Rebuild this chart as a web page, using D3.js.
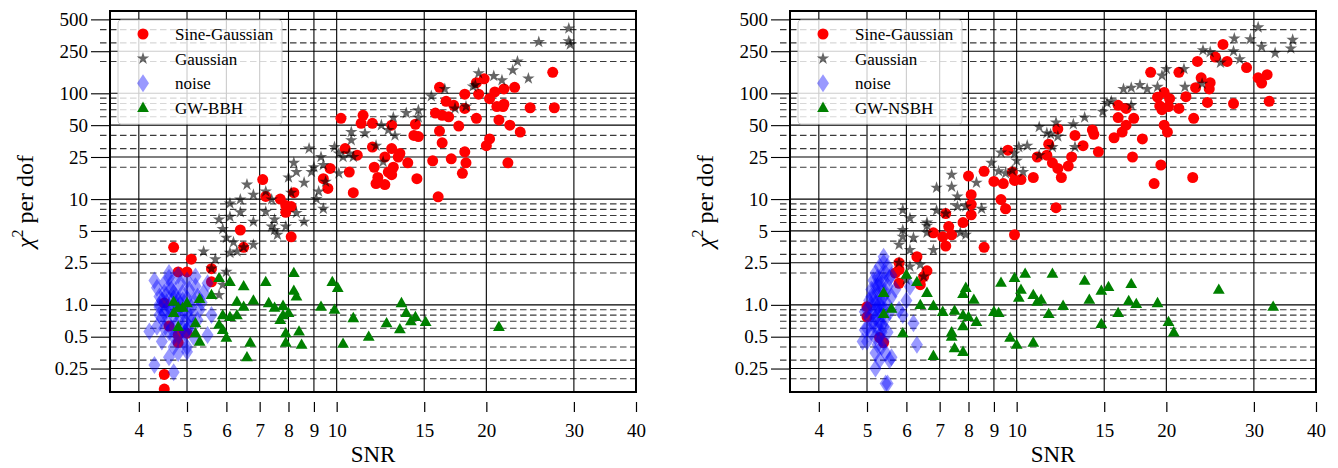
<!DOCTYPE html>
<html><head><meta charset="utf-8">
<script src="https://cdn.jsdelivr.net/npm/d3@7"></script>
<style>body{margin:0;background:#fff}svg{display:block}text{font-family:"Liberation Serif","Times New Roman",serif;fill:#000}</style>
</head><body><svg id="c" width="1338" height="468"></svg>
<script>
// ---- ticks / categories ----
const xTicks = [4,5,6,7,8,9,10,15,20,30,40];
const yTicks = [0.25,0.5,1,2.5,5,10,25,50,100,250,500];
const yMinor = [0.2,0.3,0.4,0.6,0.7,0.8,0.9,2,3,4,6,7,8,9,20,30,40,60,70,80,90,200,300,400];
const xDomain = [3.5,40];
const yDomain = [0.15,600];
const seriesNames = ["Sine-Gaussian","Gaussian","noise"];
const gwNames = ["GW-BBH","GW-NSBH"];

// ---- left panel (BBH) data: [SNR, chi2 per dof] ----
const sgBBH = [[10.2,58],[11.3,62],[11.2,52],[11.8,52],[12.9,50],[14.4,51],[14.3,40],[14.6,39],[11.8,31],[10.4,30],[12.9,30],[12.5,25],[13.4,27],[13.3,25],[13.9,22],[11.0,26],[9.7,19.5],[10.6,18],[11.9,20],[13.0,20],[12.1,16],[12.7,18],[12.9,17],[12.0,14],[12.5,13.7],[14.5,15.6],[10.8,11.5],[9.4,15.6],[9.6,12.6],[16.0,10.5],[15.6,23],[17.0,24],[18.1,28],[18.2,22],[17.9,17.5],[16.3,34],[16.1,44],[15.8,65],[16.3,62],[16.8,60],[16.6,84],[17.2,77],[16.1,114],[17.6,49],[18.1,72],[18.1,98],[19.1,58],[19.3,98],[19.1,126],[19.8,137],[20.3,89],[20.8,103],[21.0,75],[21.2,56],[21.6,75],[21.7,79],[21.7,110],[22.8,114],[20.3,37],[20.0,32],[22.3,50],[23.4,43],[22.1,22],[24.5,73],[27.4,73],[27.2,158],[7.1,15.3],[7.2,10.6],[7.7,10],[7.9,8.7],[7.9,7.5],[8.1,8.5],[8.2,11.5],[6.4,5.1],[8.1,4.4],[6.5,3.5],[4.7,3.5],[5.1,2.7],[4.8,2.05],[5.0,2.05],[5.6,2.2],[5.6,1.65],[4.5,1.04],[4.6,0.63],[4.8,0.52],[5.0,0.54],[4.8,0.44],[4.5,0.22],[4.5,0.16]];
const gaussBBH = [[29.3,410],[29.3,310],[29.5,290],[25.5,305],[23.1,200],[22.6,165],[24.3,138],[20.7,146],[21.5,133],[19.3,155],[19.0,120],[18.8,116],[16.5,110],[15.5,94],[13.8,65],[14.6,69],[14.6,59],[13.0,59],[12.3,50],[12.7,45],[13.1,40],[10.7,43],[10.7,36],[11.4,42],[12.0,32],[9.9,31],[10.1,27],[10.3,25],[10.6,27],[10.8,25],[10.1,17.5],[12.4,22.5],[9.3,25],[9.4,21],[9.5,14.6],[9.2,11.8],[9.4,8.1],[17.3,72],[18.2,75],[8.8,30],[8.2,22],[8.3,18],[8.0,16],[8.6,14.3],[8.9,18],[9.0,20],[9.1,10],[8.1,11.5],[6.6,13.7],[6.8,11],[7.2,11.8],[7.4,9.9],[7.2,7.6],[6.4,9.9],[6.1,9.1],[6.1,6.8],[6.4,7.5],[5.8,6.4],[5.9,5.2],[6.8,6.1],[7.5,6.4],[7.5,5.1],[7.9,5.5],[8.3,7.4],[8.6,6.1],[7.6,4.6],[6.0,4.3],[7.4,5.5],[6.2,3.9],[6.8,3.7],[6.5,3.5],[6.1,3.1],[6.3,3.2],[5.4,3.2],[5.7,2.7],[6.0,2.05],[5.9,1.55],[5.8,1.24],[5.6,2.2]];
const noiseBBH = [[4.2,0.56],[4.3,0.27],[4.7,0.23],[4.3,1.7],[4.35,1.45],[4.4,1.2],[4.4,0.95],[4.45,0.75],[4.35,0.62],[4.5,1.6],[4.5,1.3],[4.55,1.05],[4.5,0.85],[4.55,0.7],[4.6,0.55],[4.45,0.45],[4.6,1.8],[4.65,1.4],[4.7,1.15],[4.65,0.9],[4.7,0.78],[4.75,0.65],[4.8,0.5],[4.7,0.4],[4.8,1.9],[4.85,1.6],[4.9,1.3],[4.85,1.0],[4.9,0.85],[4.95,0.7],[5.0,0.58],[4.9,0.45],[4.8,0.35],[5.0,1.7],[5.05,1.4],[5.0,1.15],[5.1,0.95],[5.1,0.8],[5.05,0.62],[5.15,0.5],[5.0,0.4],[4.6,0.32],[5.2,1.85],[5.2,1.5],[5.25,1.2],[5.3,0.9],[5.25,0.72],[5.35,1.05],[5.5,1.6],[5.6,0.8],[5.5,0.52],[5.0,0.36],[4.4,1.0],[4.55,1.25],[4.75,1.0],[4.65,0.6],[4.9,1.1],[4.6,2.0],[4.8,0.9],[5.15,1.1],[4.4,0.8],[4.7,0.5],[4.95,0.55],[5.4,1.3],[4.5,0.6],[4.85,0.75],[5.1,0.7],[4.75,1.25],[4.6,0.95],[5.0,0.85],[4.45,1.1],[4.55,0.9],[4.7,1.3],[4.8,1.1],[4.65,1.6],[4.9,0.6]];
const gwBBH = [[5.8,1.8],[6.1,1.65],[6.5,1.5],[7.2,1.65],[8.2,2.0],[8.2,1.36],[8.3,1.2],[9.8,1.65],[10.05,1.45],[5.3,1.14],[5.6,1.24],[4.7,1.07],[5.0,1.04],[4.7,0.84],[4.8,0.94],[4.9,0.94],[6.3,1.07],[6.5,0.96],[6.3,0.8],[6.1,0.77],[5.9,0.8],[6.8,1.1],[7.3,1.04],[7.5,0.94],[7.8,0.98],[7.8,0.8],[8.0,0.84],[7.7,0.72],[9.3,0.96],[5.2,0.67],[4.8,0.62],[5.2,0.54],[5.3,0.45],[5.8,0.65],[5.9,0.58],[6.0,0.49],[6.7,0.44],[6.6,0.32],[7.9,0.54],[7.9,0.44],[8.4,0.56],[8.5,0.42],[9.9,0.9],[10.8,0.75],[10.3,0.43],[11.6,0.5],[12.6,0.67],[13.5,1.04],[13.8,0.84],[14.1,0.7],[14.4,0.77],[13.4,0.59],[15.1,0.69],[21.2,0.62]];

// ---- right panel (NSBH) data ----
const sgNSBH = [[18.6,158],[21.2,158],[23.1,200],[26.0,290],[25.1,220],[26.5,200],[29.0,175],[30.6,140],[31.1,125],[31.9,150],[32.2,84],[27.3,80],[24.2,82],[23.5,140],[24.5,126],[24.4,110],[22.9,113],[21.9,93],[21.2,72],[22.7,58],[19.2,92],[19.8,102],[20.3,89],[19.4,76],[19.6,70],[20.2,75],[19.8,50],[20.1,43],[19.5,21],[18.9,14],[22.6,16],[16.0,77],[16.6,72],[17.2,58],[16.0,59],[16.6,50],[16.3,43],[15.7,38],[17.9,37],[17.1,25],[14.6,28],[14.2,45],[14.3,41],[13.6,32],[13.1,40],[12.9,25],[12.7,20.5],[12.3,16],[11.8,22],[12.1,19.5],[12.1,46],[11.6,33],[11.5,26],[11.0,25],[12.0,8.3],[10.8,16],[10.2,15.3],[9.9,15],[9.8,18],[9.6,29],[9.4,14],[9.3,9.9],[9.5,8.1],[9.9,4.6],[8.6,18.3],[9.0,14.7],[8.0,16.5],[8.1,11],[8.1,8.9],[8.1,7.1],[7.8,6],[6.8,4.8],[7.2,7.3],[7.3,5.5],[7.4,4.6],[7.1,4.4],[7.2,3.6],[8.6,3.5],[6.3,2.85],[5.8,2.5],[5.8,2.15],[6.6,2.1],[6.5,1.85],[6.4,1.55],[5.8,1.6],[5.0,0.96],[5.0,0.77],[5.3,0.49],[5.4,0.44],[5.7,2.0]];
const gaussNSBH = [[30.6,420],[27.4,330],[29.5,325],[31.1,275],[35.9,320],[35.6,265],[33.1,240],[27.3,250],[28.1,210],[25.7,195],[23.7,255],[24.5,245],[21.7,170],[20.0,170],[19.6,147],[21.8,115],[23.6,123],[19.2,115],[18.3,110],[17.7,120],[17.0,113],[16.4,110],[17.0,77],[15.5,84],[15.2,81],[14.9,67],[13.7,59],[13.0,51],[12.0,53],[12.1,39],[11.7,41],[11.5,42],[11.1,48],[13.1,31],[11.8,31],[11.1,26],[10.5,32],[10.1,31],[9.9,27],[10.0,23],[9.8,18.6],[10.3,18],[9.5,17.5],[9.3,27.5],[7.4,17],[7.4,13.1],[6.9,12.8],[8.3,14.3],[7.6,10.6],[7.6,8.5],[7.9,8.5],[8.5,8.1],[6.9,7.8],[7.2,7.3],[5.9,7.9],[6.1,6.6],[6.6,6],[5.9,5.1],[6.2,4.3],[5.9,4.4],[7.9,4.6],[8.9,22],[9.2,18.3],[6.6,5.6],[6.6,4.8],[5.8,3.7],[6.1,3.3],[6.8,3.3],[5.8,2.5],[6.1,2.3],[6.4,2.4],[6.5,1.85],[6.0,1.73],[7.7,4.8]];
const noiseNSBH = [[5.0,0.9],[5.0,0.6],[5.0,0.45],[5.05,1.1],[5.05,0.75],[5.1,1.4],[5.1,1.0],[5.1,0.55],[5.15,1.7],[5.15,1.2],[5.15,0.85],[5.15,0.65],[5.2,2.0],[5.2,1.5],[5.2,1.05],[5.2,0.75],[5.2,0.5],[5.25,1.8],[5.25,1.3],[5.25,0.95],[5.25,0.6],[5.25,0.42],[5.3,2.3],[5.3,1.6],[5.3,1.15],[5.3,0.85],[5.3,0.68],[5.3,0.5],[5.35,1.9],[5.35,1.4],[5.35,1.0],[5.35,0.78],[5.35,0.55],[5.35,0.4],[5.4,2.5],[5.4,1.7],[5.4,1.2],[5.4,0.9],[5.4,0.62],[5.4,0.45],[5.45,2.0],[5.45,1.3],[5.45,0.75],[5.5,1.5],[5.5,1.0],[5.5,0.55],[5.55,1.8],[5.55,0.85],[5.55,0.3],[5.6,0.32],[5.6,1.2],[5.7,1.4],[5.8,0.9],[5.9,0.8],[6.0,1.1],[6.1,1.48],[6.2,0.67],[6.3,0.42],[5.4,2.85],[5.5,0.18],[5.45,0.18],[5.2,0.25],[4.9,0.45],[4.95,0.86],[4.95,0.58],[5.5,2.3],[5.6,1.9],[5.45,0.35],[5.2,0.35],[5.3,0.3],[5.1,1.2],[5.2,0.9],[5.3,1.0],[5.15,0.7],[5.25,1.5],[5.35,0.65]];
const gwNSBH = [[6.0,1.93],[6.3,1.65],[6.6,1.3],[6.4,1.0],[6.8,0.98],[7.1,0.86],[7.5,0.88],[7.8,1.27],[7.9,1.45],[8.2,1.12],[7.8,0.8],[8.0,0.77],[8.3,0.69],[7.8,0.63],[7.4,0.55],[7.4,0.5],[7.5,0.39],[7.8,0.36],[6.8,0.33],[5.9,0.54],[5.4,1.3],[5.6,0.92],[5.4,0.82],[9.0,0.86],[9.2,0.84],[9.3,1.62],[9.9,1.8],[9.7,0.49],[10.0,0.42],[10.1,1.17],[10.4,1.97],[11.8,1.97],[10.2,1.39],[10.8,1.24],[11.0,1.07],[11.2,1.12],[11.6,0.82],[12.4,0.98],[10.8,0.44],[13.7,1.69],[14.0,1.12],[14.8,1.36],[15.3,1.48],[14.8,0.66],[16.0,0.84],[17.0,1.58],[16.8,1.09],[17.4,1.02],[19.2,1.04],[20.2,0.69],[20.7,0.55],[25.5,1.39],[32.8,0.96]];

// ---- drawing ----
const svg = d3.select("#c");
svg.append("rect").attr("width",1338).attr("height",468).attr("fill","#fff");

const starPath = d3.symbol().type(d3.symbolStar).size(48)();
const circlePath = d3.symbol().type(d3.symbolCircle).size(Math.PI*5.5*5.5)();
const diamondPath = "M0,-9L6,0L0,9L-6,0Z";
const triPath = "M0,-6.2L5.9,4.1L-5.9,4.1Z";
const styles = [
  {path:circlePath, fill:"#ff0000", op:1},
  {path:starPath, fill:"#000000", op:0.6},
  {path:diamondPath, fill:"#0000ff", op:0.4},
  {path:triPath, fill:"#008000", op:1}
];

const panels = [
  {off:0, data:[sgBBH,gaussBBH,noiseBBH,gwBBH], gw:gwNames[0]},
  {off:680, data:[sgNSBH,gaussNSBH,noiseNSBH,gwNSBH], gw:gwNames[1]}
];

panels.forEach(p => {
  const L = 110 + p.off, R = 636 + p.off, T = 11, B = 392;
  const x = d3.scaleLog().domain(xDomain).range([L, R]);
  const y = d3.scaleLog().domain(yDomain).range([B, T]);
  const g = svg.append("g");

  g.append("g").selectAll("line").data(yMinor).join("line")
    .attr("x1", L-10).attr("x2", R).attr("y1", d=>y(d)).attr("y2", d=>y(d))
    .attr("stroke","#3a3a3a").attr("stroke-width",1.1).attr("stroke-dasharray","6.5,3.5");
  g.append("g").selectAll("line").data(yTicks).join("line")
    .attr("x1", L).attr("x2", R).attr("y1", d=>y(d)).attr("y2", d=>y(d))
    .attr("stroke","#000").attr("stroke-width",1.1);
  g.append("g").selectAll("line").data(xTicks).join("line")
    .attr("x1", d=>x(d)).attr("x2", d=>x(d)).attr("y1", T).attr("y2", B)
    .attr("stroke","#000").attr("stroke-width",1.1);

  const ax = g.append("g").attr("transform",`translate(0,${B+10})`)
    .call(d3.axisBottom(x).tickValues(xTicks).tickFormat(d=>String(d)).tickSize(10).tickPadding(11.5));
  ax.attr("font-family","Liberation Serif");
  ax.select(".domain").remove();
  ax.selectAll("line").attr("stroke","#000").attr("stroke-width",1.2);
  ax.selectAll("text").attr("font-size",19);

  const ay = g.append("g").attr("transform",`translate(${L},0)`)
    .call(d3.axisLeft(y).tickValues(yTicks).tickFormat(d=> d===1 ? "1.0" : String(d)).tickSize(19).tickPadding(3));
  ay.attr("font-family","Liberation Serif");
  ay.select(".domain").remove();
  ay.selectAll("line").attr("stroke","#000").attr("stroke-width",1.1);
  ay.selectAll("text").attr("font-size",19);

  const clipId = "clip"+p.off;
  svg.append("clipPath").attr("id",clipId).append("rect").attr("x",L).attr("y",T).attr("width",R-L).attr("height",B-T);
  const pts = g.append("g").attr("clip-path",`url(#${clipId})`);
  p.data.forEach((arr,i) => {
    const s = styles[i];
    pts.append("g").selectAll("path").data(arr).join("path")
      .attr("d", s.path)
      .attr("transform", d=>`translate(${x(d[0])},${y(d[1])})`)
      .attr("fill", s.fill).attr("fill-opacity", s.op);
  });

  g.append("rect").attr("x",L).attr("y",T).attr("width",R-L).attr("height",B-T)
    .attr("fill","none").attr("stroke","#000").attr("stroke-width",2);

  const lg = g.append("g").attr("transform",`translate(${L+8},20)`);
  lg.append("rect").attr("width",164).attr("height",104).attr("rx",3)
    .attr("fill","#fff").attr("fill-opacity",0.8).attr("stroke","#cccccc").attr("stroke-width",1);
  const labels = seriesNames.concat([p.gw]);
  labels.forEach((lab,i) => {
    const ry = 14 + i*24.6;
    lg.append("path").attr("d", styles[i].path).attr("transform",`translate(25,${ry})`)
      .attr("fill", styles[i].fill).attr("fill-opacity", styles[i].op);
    lg.append("text").attr("x",57).attr("y",ry+6).attr("font-size",17).text(lab);
  });

  g.append("text").attr("x",(L+R)/2).attr("y",462).attr("text-anchor","middle").attr("font-size",23).text("SNR");
  const yl = g.append("text").attr("transform",`translate(${p.off+33},${(T+B)/2}) rotate(-90)`)
    .attr("text-anchor","middle").attr("font-size",24);
  yl.append("tspan").attr("font-style","italic").text("χ");
  yl.append("tspan").attr("font-size",16).attr("dy",-10).text("2");
  yl.append("tspan").attr("dy",10).text(" per dof");
});
</script></body></html>
